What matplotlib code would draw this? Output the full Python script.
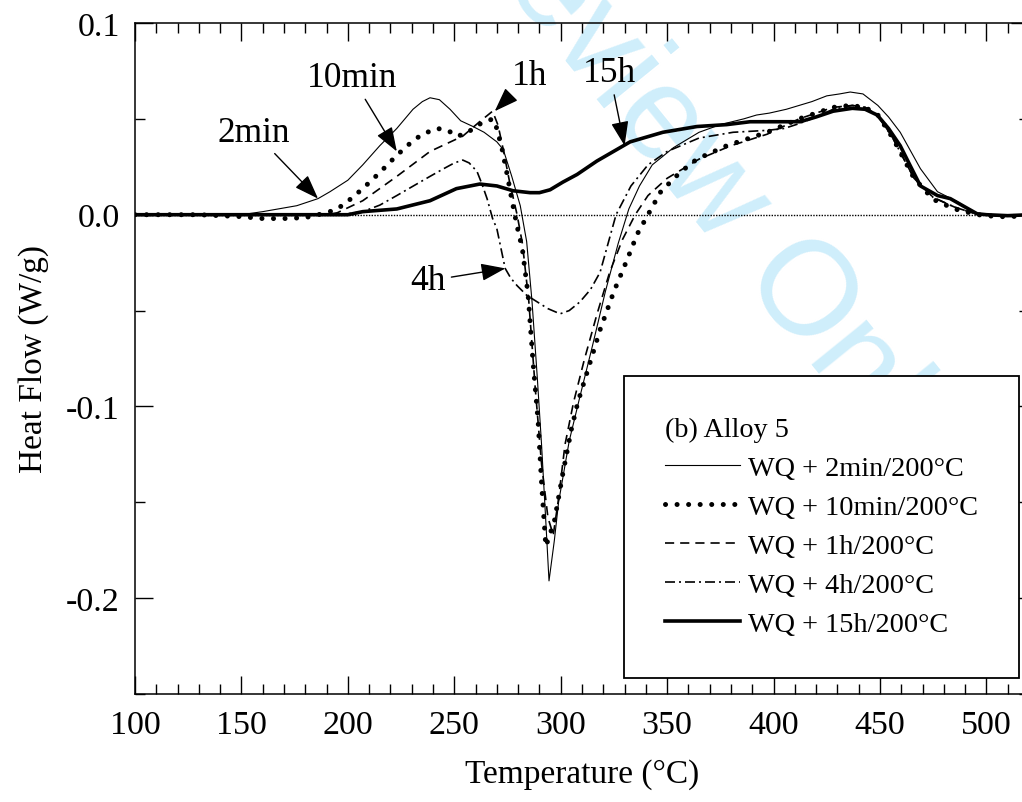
import matplotlib
matplotlib.use("Agg")
import matplotlib.pyplot as plt
from matplotlib.ticker import MultipleLocator, FuncFormatter

# DSC curves, Alloy 5
t_2min = [100, 150, 160, 176, 186, 191.6, 200, 207, 215, 223, 230.6, 235, 238.6, 243, 248, 253,
          258.8, 264, 270, 273, 277, 281, 284, 286.5, 289, 291, 293, 294.5, 297, 299, 304, 309,
          315, 321, 327, 332, 337, 343, 353, 365, 375, 386, 392, 398, 406, 412, 418, 425, 431,
          436, 442, 449, 454, 459.5, 464, 469, 477, 486, 495.6, 505, 512, 520]
q_2min = [0, 0, 0.0016, 0.0047, 0.0084, 0.012, 0.018, 0.026, 0.036, 0.045, 0.055, 0.059, 0.061,
          0.060, 0.055, 0.049, 0.046, 0.043, 0.038, 0.034, 0.020, 0.0047, -0.014, -0.045, -0.085,
          -0.12, -0.16, -0.191, -0.170, -0.150, -0.118, -0.095, -0.068, -0.040, -0.015, 0.003,
          0.015, 0.026, 0.035, 0.043, 0.047, 0.050, 0.052, 0.053, 0.055, 0.057, 0.059, 0.062,
          0.063, 0.064, 0.063, 0.057, 0.051, 0.043, 0.034, 0.024, 0.012, 0.007, 0.0005, -0.0005,
          -0.001, 0]

t_10min = [100, 130, 150, 160, 170, 180, 190, 195, 200, 207, 215, 223, 230, 235, 242, 247, 251,
           255, 259, 263, 266, 268, 270, 272.5, 275, 277, 279.5, 282, 284.7, 287, 289.4, 291, 293,
           297, 301, 305, 308, 313, 318.5, 325, 331, 336, 341, 347, 356, 364, 378, 397, 412, 428,
           436, 443, 449, 456, 466, 475, 485, 496, 505, 512, 520]
q_10min = [0, 0, -0.001, -0.002, -0.002, -0.0015, 0.001, 0.003, 0.007, 0.0136, 0.022, 0.031,
           0.038, 0.042, 0.045, 0.044, 0.041, 0.042, 0.045, 0.048, 0.049, 0.050, 0.045, 0.034,
           0.020, 0.008, -0.006, -0.018, -0.042, -0.077, -0.108, -0.14, -0.173, -0.160, -0.135,
           -0.112, -0.098, -0.080, -0.060, -0.040, -0.024, -0.010, 0, 0.012, 0.022, 0.029, 0.036,
           0.043, 0.050, 0.056, 0.057, 0.056, 0.052, 0.040, 0.019, 0.008, 0.003, 0, -0.001,
           -0.001, 0]

t_1h = [100, 150, 190, 195, 207, 223, 238.6, 254, 262, 268, 270.6, 273, 276, 279.5, 282, 285, 288,
        291, 294, 296.5, 299, 302, 306, 311, 317, 323, 329, 335, 341, 350, 365, 380, 397, 412, 428,
        437, 443, 449, 456, 466, 475, 485, 496, 505, 520]
q_1h = [0, 0, 0, 0.001, 0.0073, 0.020, 0.033, 0.041, 0.0486, 0.054, 0.0465, 0.034, 0.017, 0,
        -0.015, -0.045, -0.09, -0.13, -0.158, -0.167, -0.148, -0.12, -0.098, -0.076, -0.052,
        -0.030, -0.013, 0, 0.010, 0.019, 0.029, 0.036, 0.042, 0.050, 0.056, 0.057, 0.056, 0.052,
        0.040, 0.019, 0.009, 0.004, 0, -0.0005, 0]

t_4h = [100, 190, 200, 207, 215, 223, 230, 238.6, 245, 250, 254, 257, 260.7, 263, 265.4, 268, 270,
        273.9, 276.5, 279.5, 284, 289, 294, 299.7, 304, 309, 314, 318.5, 323, 326, 333, 341, 350,
        365, 381, 397, 405, 412, 420, 428, 437, 443, 448.7, 456, 466, 475, 485, 496, 505, 520]
q_4h = [0, 0, 0.0005, 0.0016, 0.005, 0.010, 0.0145, 0.020, 0.024, 0.027, 0.0285, 0.027, 0.0225,
        0.016, 0.0084, -0.002, -0.0073, -0.028, -0.033, -0.037, -0.042, -0.0455, -0.049, -0.0517,
        -0.050, -0.0455, -0.039, -0.030, -0.012, 0, 0.015, 0.026, 0.033, 0.040, 0.043, 0.044,
        0.045, 0.0475, 0.051, 0.055, 0.057, 0.056, 0.052, 0.040, 0.019, 0.009, 0.004, 0, -0.0005, 0]

t_15h = [100, 200, 207, 223, 238.6, 251, 262, 270, 277.6, 285.6, 290, 295, 301, 307.7, 317, 332.6,
         348, 364, 378, 389, 400, 412.5, 420, 428, 437, 443, 448.7, 454, 459.5, 464, 469, 477,
         483, 490, 495.6, 500, 510, 520]
q_15h = [0, 0, 0.0016, 0.003, 0.0073, 0.0136, 0.016, 0.015, 0.0125, 0.0115, 0.0115, 0.013, 0.017,
         0.021, 0.028, 0.038, 0.043, 0.046, 0.047, 0.0485, 0.0485, 0.0485, 0.051, 0.054, 0.0555,
         0.055, 0.052, 0.045, 0.036, 0.026, 0.015, 0.010, 0.0084, 0.004, 0.0005, 0, -0.0005, 0]

labels = ["WQ + 2min/200°C", "WQ + 10min/200°C", "WQ + 1h/200°C",
          "WQ + 4h/200°C", "WQ + 15h/200°C"]

plt.rcParams["font.family"] = "serif"
plt.rcParams["font.serif"] = ["Liberation Serif", "DejaVu Serif"]
plt.rcParams["axes.unicode_minus"] = False

fig = plt.figure(figsize=(10.22, 8.03), dpi=100)
ax = fig.add_axes([135 / 1022, 108 / 803, 894 / 1022, 671 / 803])

# zero baseline
ax.axhline(0, color="k", lw=1.0, linestyle=(0, (1, 1)), zorder=1)

ax.plot(t_2min, q_2min, color="k", lw=0.8, label=labels[0])
ax.plot(t_10min, q_10min, color="k", lw=3.6, linestyle=(0, (0.01, 2.3)),
        dash_capstyle="round", label=labels[1])
ax.plot(t_1h, q_1h, color="k", lw=1.2, linestyle=(0, (5.5, 3.6)), label=labels[2])
ax.plot(t_4h, q_4h, color="k", lw=1.2, linestyle=(0, (6, 2.4, 1.2, 2.4)), label=labels[3])
ax.plot(t_15h, q_15h, color="k", lw=2.6, label=labels[4])

ax.set_xlim(100, 520)
ax.set_ylim(-0.25, 0.1)
ax.xaxis.set_major_locator(MultipleLocator(50))
ax.xaxis.set_minor_locator(MultipleLocator(10))
ax.yaxis.set_major_locator(MultipleLocator(0.1))
ax.yaxis.set_minor_locator(MultipleLocator(0.05))
ax.yaxis.set_major_formatter(FuncFormatter(lambda v, p: f"{v:.1f}"))
ax.tick_params(which="both", direction="in", top=True, right=True, width=1)
ax.tick_params(which="major", length=13, labelsize=24.5, pad=11)
ax.tick_params(which="minor", length=7)
for s in ax.spines.values():
    s.set_linewidth(1.1)

ax.set_xlabel("Temperature (°C)", fontsize=24, labelpad=13)
ax.set_ylabel("Heat Flow (W/g)", fontsize=24, labelpad=12)

arrow = dict(arrowstyle="-|>,head_length=0.75,head_width=0.27", color="k", lw=1,
             mutation_scale=20, shrinkB=0)
ax.annotate("2min", xy=(186, 0.0084), xytext=(156, 0.043), fontsize=25.5,
            ha="center", va="center", arrowprops=arrow)
ax.annotate("10min", xy=(223, 0.033), xytext=(202, 0.0715), fontsize=25.5,
            ha="center", va="center", arrowprops=arrow)
ax.annotate("1h", xy=(269, 0.054), xytext=(285.6, 0.0725), fontsize=25.5,
            ha="center", va="center", arrowprops=arrow)
ax.annotate("15h", xy=(330, 0.036), xytext=(323, 0.074), fontsize=25.5,
            ha="center", va="center", arrowprops=arrow)
ax.annotate("4h", xy=(274, -0.028), xytext=(237.7, -0.0345), fontsize=25.5,
            ha="center", va="center", arrowprops=arrow)

leg = ax.legend(loc="lower left", bbox_to_anchor=(0.547, 0.024), fontsize=20.3,
                title="(b) Alloy 5", title_fontsize=20.3, alignment="left",
                frameon=True, fancybox=False, edgecolor="k", framealpha=1,
                borderpad=1.45, labelspacing=0.47, handlelength=2.65, handletextpad=0.3,
                borderaxespad=0)
leg.get_frame().set_linewidth(1.3)

# review watermark
ax.text(0.615, 0.895, "For Review Only", transform=fig.transFigure, fontsize=96,
        family="Liberation Sans", color="#cfeefb", rotation=-51, rotation_mode="anchor",
        ha="center", va="center", zorder=0)

fig.savefig("out.png", dpi=100)
